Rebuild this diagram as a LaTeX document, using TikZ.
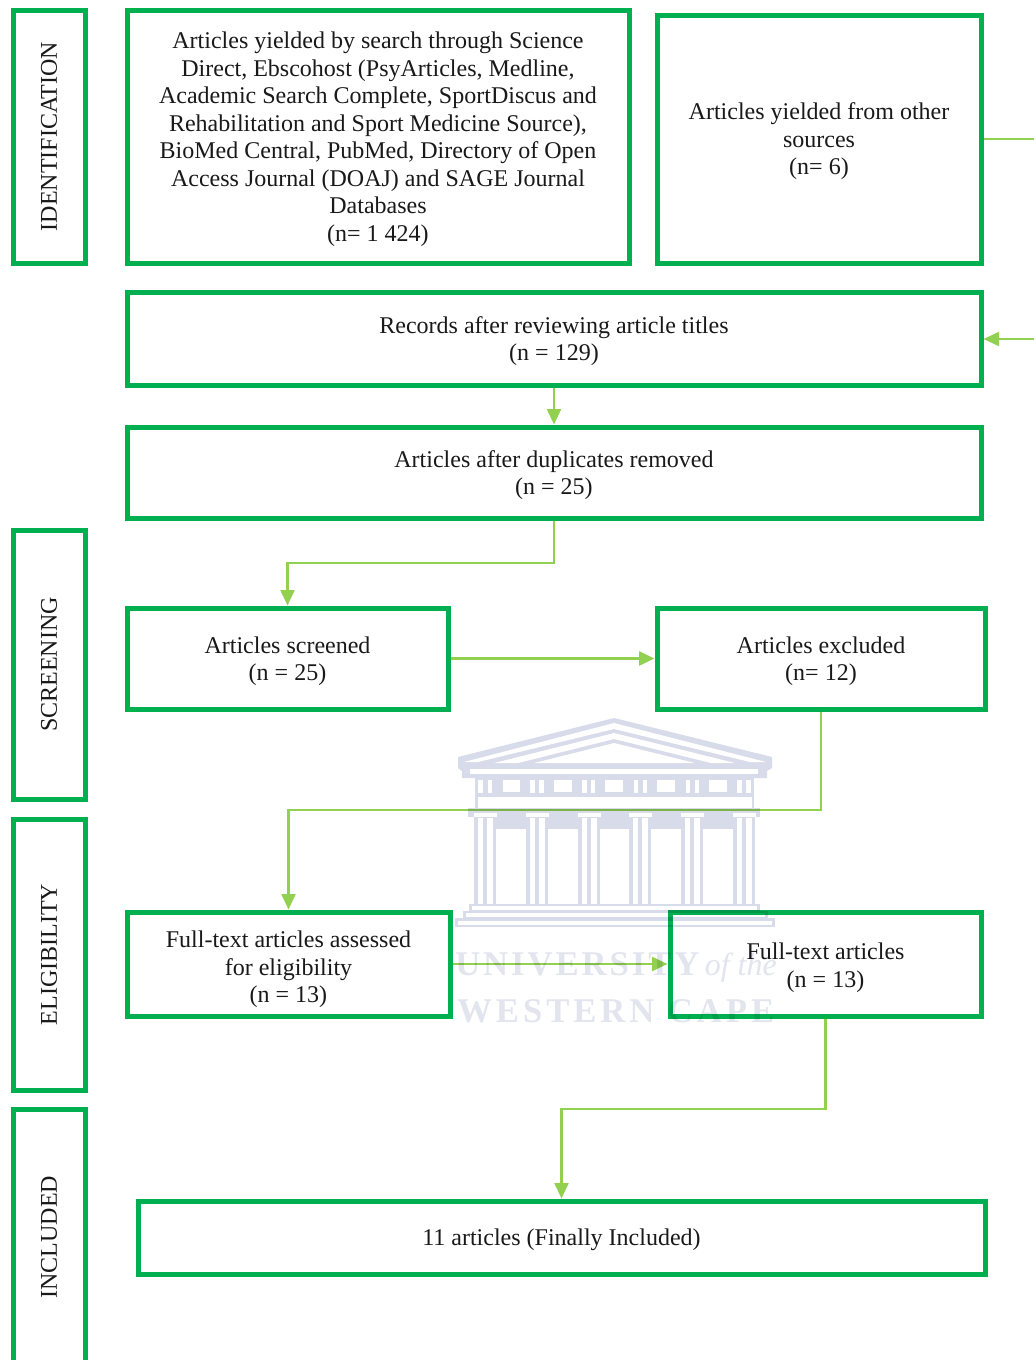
\documentclass[tikz,border=0pt]{standalone}
\usepackage{fontspec}
\setmainfont{Liberation Serif}
\newfontfamily\wmfont[LetterSpace=11.5]{Liberation Serif}
\newfontfamily\wmfontb[LetterSpace=8.5]{Liberation Serif}
\usetikzlibrary{arrows.meta}
\definecolor{boxgreen}{HTML}{00B050}
\definecolor{linkgreen}{HTML}{92D050}
\definecolor{wmblue}{HTML}{D8DBE9}
\definecolor{wmtext}{HTML}{E2E4EE}
\tikzset{
  x=0.75pt,y=-0.75pt,
  gbox/.style={draw=boxgreen,line width=3.75pt,align=center,inner sep=0pt,outer sep=2pt,
    font=\fontsize{18}{20.65}\selectfont,text=black!90},
  side/.style={gbox,rotate=90},
  link/.style={draw=linkgreen,line width=1.7pt,-{Triangle[length=11.5pt,width=11pt,line width=0pt,color=white,fill=linkgreen]}},
  plainlink/.style={draw=linkgreen,line width=1.7pt},
  wmf/.style={fill=wmblue,draw=none},
  wmw/.style={fill=white,draw=none},
}
% name, style, x1, y1, x2, y2, text (stroke-centre pixel box)
\newcommand{\pbox}[7]{%
  \pgfmathsetmacro{\bw}{(#5-#3)*0.75}%
  \pgfmathsetmacro{\bh}{(#6-#4)*0.75}%
  \node[#2,minimum width=\bw pt,minimum height=\bh pt] (#1) at ({(#3+#5)/2},{(#4+#6)/2}) {\rule{0pt}{16.5pt}#7};}
\newcommand{\sidebox}[6]{%
  \pgfmathsetmacro{\bw}{(#4-#2)*0.75}%
  \pgfmathsetmacro{\bh}{(#5-#3)*0.75}%
  \node[side,minimum width=\bh pt,minimum height=\bw pt] (#1) at ({(#2+#4)/2},{(#3+#5)/2}) {#6};}
\begin{document}
\begin{tikzpicture}
\useasboundingbox (0,0) rectangle (1034,1360);
\fill[white] (0,0) rectangle (1034,1360);
\clip (0,0) rectangle (1034,1360);

% watermark
\fill[wmf] (458,757) -- (614,718) -- (772,757) -- (772,768) -- (767,771) -- (767,778) -- (462,778) -- (462,771) -- (458,768) -- cycle;
\fill[wmw] (464,762) -- (614,723) -- (766,762) -- (750,762) -- (614,729) -- (478,762) -- cycle;
\fill[wmw] (494,763) -- (614,733) -- (735,763) -- (711,763) -- (614,739) -- (518,763) -- cycle;
\fill[wmw] (534,763) -- (614,743) -- (695,763) -- cycle;
\fill[wmw] (470,768.5) rectangle (758,774);
% frieze
\fill[wmf] (475,778) rectangle (754,811);
\foreach \a/\b in {502.7/520,554/572,605.3/623.3,656.7/675,709.3/726.7}{\fill[wmw] (\a,780) rectangle (\b,792);}
\foreach \a/\b in {478/483,488/492,530/535,539/543.5,582/586.5,591/595,634/638,643/647,685.5/690,694.5/699,737/741.5,746/750.5}{\fill[wmw] (\a,780) rectangle (\b,793);}
\fill[wmw] (478,797) rectangle (752,808);
% capitals band
\fill[wmf] (468,808) rectangle (760,817);
\fill[wmf] (493,817) rectangle (735,829);
\foreach \c in {485,537,589,640,692,744}{
  \fill[wmw] (\c-11.5,813) rectangle (\c+11.5,816.5);
  \fill[wmf] (\c-11,816.5) rectangle (\c+11,905);
  \fill[wmw] (\c-7.5,818) rectangle (\c-2,904);
  \fill[wmw] (\c+2,818) rectangle (\c+7.5,904);
}
% base
\fill[wmf] (469,904) rectangle (760,912);
\fill[wmw] (472,906) rectangle (757,910);
\fill[wmf] (463,911) rectangle (768,919);
\fill[wmw] (466,913) rectangle (765,917);
\fill[wmf] (455,918) rectangle (775,927);
\fill[wmw] (458,920.5) rectangle (772,924.5);
\node[inner sep=0pt,anchor=base west,text=wmtext] (wma) at (455,975) {\fontsize{26}{30}\bfseries\wmfontb UNIVERSITY\hspace{4pt}\normalfont\itshape\fontsize{24}{30}\selectfont of the};
\node[inner sep=0pt,anchor=base west,text=wmtext] (wmb) at (457,1022) {\fontsize{26}{30}\bfseries\wmfont WESTERN\hspace{10pt}CAPE};

\begin{scope}[blend mode=multiply]
\sidebox{sid}{13}{10}{85}{263}{IDENTIFICATION}
\sidebox{sscr}{13}{530}{85}{799}{SCREENING}
\sidebox{seli}{13}{819}{85}{1090}{ELIGIBILITY}
\sidebox{sinc}{13}{1109}{85}{1365}{INCLUDED}

\pbox{search}{gbox}{127}{10}{629}{263}{Articles yielded by search through Science\\Direct, Ebscohost (PsyArticles, Medline,\\Academic Search Complete, SportDiscus and\\Rehabilitation and Sport Medicine Source),\\BioMed Central, PubMed, Directory of Open\\Access Journal (DOAJ) and SAGE Journal\\Databases\\(n= 1 424)}
\pbox{other}{gbox}{657}{15}{981}{263}{Articles yielded from other\\sources\\(n= 6)}
\pbox{records}{gbox}{127}{292}{981}{385}{Records after reviewing article titles\\(n = 129)}
\pbox{dup}{gbox}{127}{427}{981}{518}{Articles after duplicates removed\\(n = 25)}
\pbox{screened}{gbox}{127}{608}{448}{709}{Articles screened\\(n = 25)}
\pbox{excluded}{gbox}{657}{608}{985}{709}{Articles excluded\\(n= 12)}
\pbox{fulltext}{gbox}{127}{912}{450}{1016}{\rule{0pt}{21pt}Full-text articles assessed\\for eligibility\\(n = 13)}
\pbox{ftarticles}{gbox}{670}{912}{981}{1016}{\rule{0pt}{18pt}Full-text articles\\(n = 13)}
\pbox{final}{gbox}{138}{1201}{985}{1274}{11 articles (Finally Included)}

\coordinate (outa) at (1040,139);
\coordinate (outb) at (1040,339);
\coordinate (j1) at (555,563);
\coordinate (j2) at (555,810);
\coordinate (j3) at (555,1109);

\draw[plainlink] (outa -| other.east) -- (outa);
\draw[link] (outb) -- (outb -| records.east);
\draw[link] (records.south) -- (records.south |- dup.north);
\draw[link] (dup.south) -- (dup.south |- j1) -- (screened.north |- j1) -- (screened.north);
\draw[link] (screened.east |- excluded.west) -- (excluded.west);
\draw[link] (excluded.south) -- (excluded.south |- j2) -- (fulltext.north |- j2) -- (fulltext.north);
\draw[link] (fulltext.east) -- (ftarticles.west);
\draw[link] (ftarticles.south) -- (ftarticles.south |- j3) -- (final.north |- j3) -- (final.north);
\end{scope}
\end{tikzpicture}
\end{document}
